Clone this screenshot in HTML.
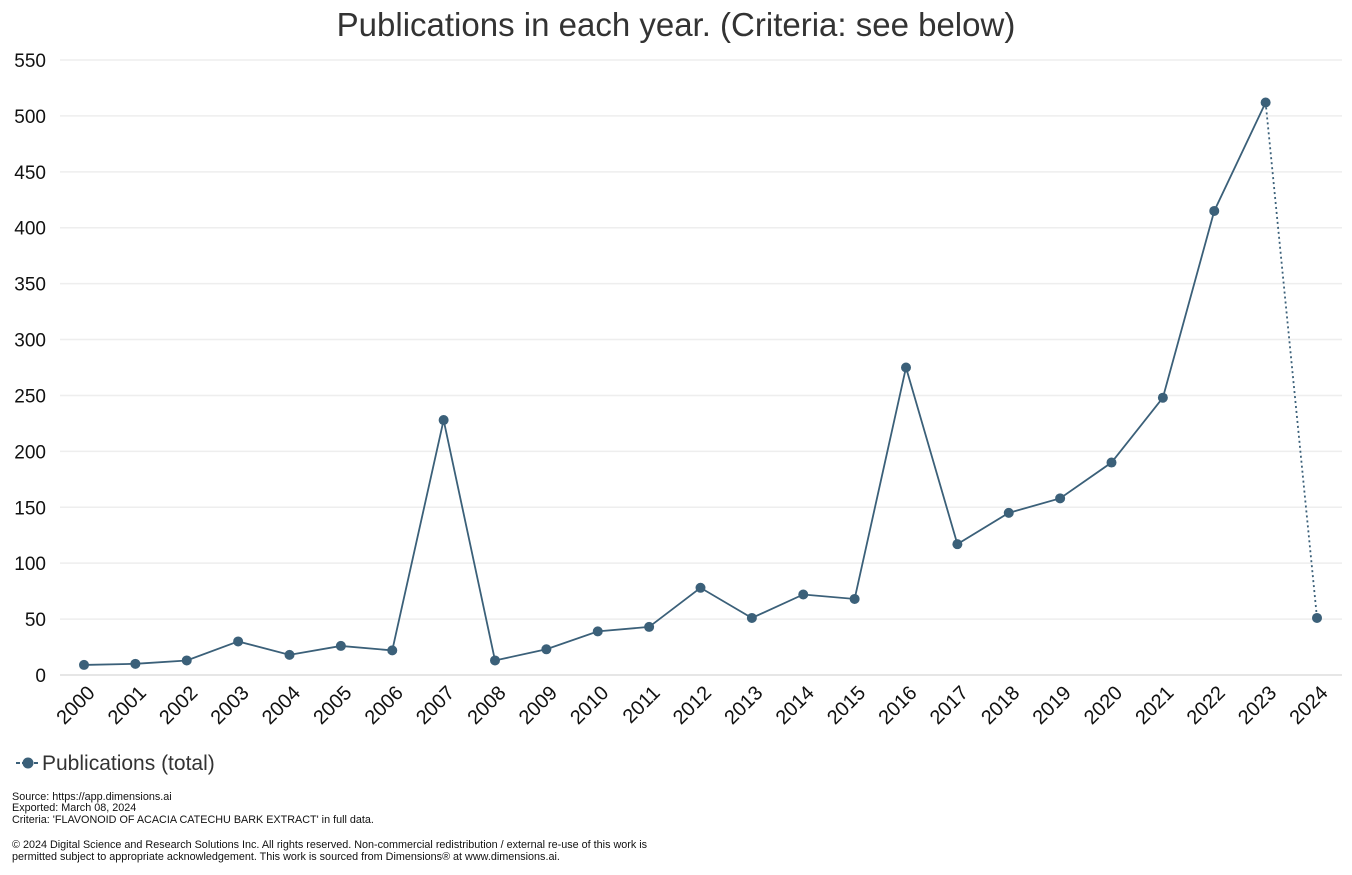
<!DOCTYPE html>
<html><head><meta charset="utf-8"><style>
body{margin:0;background:#fff;font-family:"Liberation Sans",sans-serif;}
svg{display:block}
</style></head><body>
<svg id="chart" width="1352" height="875">
<text x="676" y="36" text-anchor="middle" font-size="33" fill="#333">Publications in each year. (Criteria: see below)</text>
<g id="grid"></g><g id="xt"></g><g id="series"></g>
<g>
<line x1="16" y1="763" x2="38" y2="763" stroke="#3b6079" stroke-width="2" stroke-dasharray="4,2"/>
<circle cx="28" cy="763" r="5.5" fill="#3b6079"/>
<text x="42" y="770" font-size="21" fill="#333">Publications (total)</text></g>
<g font-size="10.8" fill="#111">
<text x="12" y="800">Source: https://app.dimensions.ai</text>
<text x="12" y="811">Exported: March 08, 2024</text>
<text x="12" y="823">Criteria: 'FLAVONOID OF ACACIA CATECHU BARK EXTRACT' in full data.</text>
<text x="12" y="848">© 2024 Digital Science and Research Solutions Inc. All rights reserved. Non-commercial redistribution / external re-use of this work is</text>
<text x="12" y="860">permitted subject to appropriate acknowledgement. This work is sourced from Dimensions® at www.dimensions.ai.</text>
</g>
</svg>
<script>
const years=[2000,2001,2002,2003,2004,2005,2006,2007,2008,2009,2010,2011,2012,2013,2014,2015,2016,2017,2018,2019,2020,2021,2022,2023,2024];
const pubs=[9,10,13,30,18,26,22,228,13,23,39,43,78,51,72,68,275,117,145,158,190,248,415,512,51];
const yTicks=[0,50,100,150,200,250,300,350,400,450,500,550];
const NS='http://www.w3.org/2000/svg';
const X=i=>84+i*(1233/(years.length-1));
const Y=v=>675-v*(615/550);
function mk(t,a,p){const e=document.createElementNS(NS,t);for(const k in a)e.setAttribute(k,a[k]);p.appendChild(e);return e;}
const g=document.getElementById('grid');
yTicks.forEach(v=>{
 const l=mk('line',{x1:60,x2:1342,y1:Y(v),y2:Y(v),stroke:v===0?'#ddd':'#eee','stroke-width':1.5},g);
 
 
 const t=mk('text',{x:46,y:Y(v)+7,'text-anchor':'end','font-size':19,fill:'#111'},g);
 t.textContent=v;
 
 
});
const xt=document.getElementById('xt');
years.forEach((y,i)=>{
 const t=mk('text',{x:X(i)+12,y:694,'text-anchor':'end','font-size':20,fill:'#111',transform:`rotate(-45 ${X(i)+12} 694)`},xt);
 t.textContent=y;
 
 
});
const s=document.getElementById('series');
const n=years.length;
let d='';for(let i=0;i<n-1;i++)d+=(i?'L':'M')+X(i)+' '+Y(pubs[i]);
const p=mk('path',{d:d,fill:'none',stroke:'#3b6079','stroke-width':1.8},s);


const dl=mk('line',{x1:X(n-2),y1:Y(pubs[n-2]),x2:X(n-1),y2:Y(pubs[n-1]),stroke:'#3b6079','stroke-width':1.8,'stroke-dasharray':'2,3'},s);


pubs.forEach((v,i)=>{
 const c=mk('circle',{cx:X(i),cy:Y(v),r:5,fill:'#3b6079'},s);
 
 
});
</script>
</body></html>
